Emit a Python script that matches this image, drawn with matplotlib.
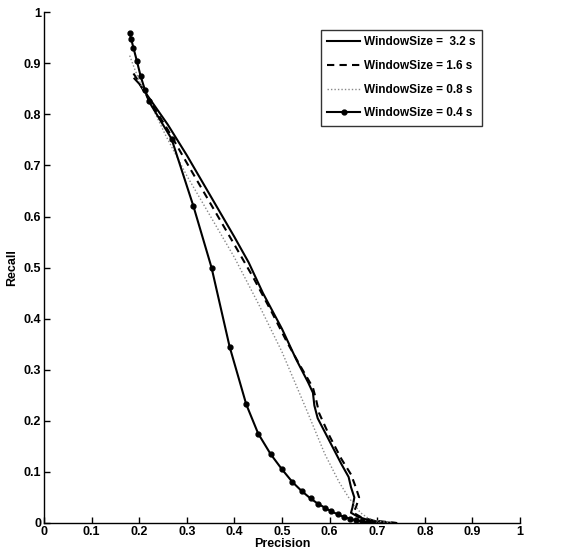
import matplotlib
matplotlib.use("Agg")
import matplotlib.pyplot as plt

# ---- data (precision, recall) ----
p32 = [0.190, 0.200, 0.215, 0.230, 0.260, 0.300, 0.350, 0.400, 0.430, 0.460, 0.500, 0.530,
       0.555, 0.565, 0.568, 0.575, 0.600, 0.625, 0.640, 0.645, 0.652, 0.648, 0.645, 0.660,
       0.680, 0.700, 0.720, 0.740]
r32 = [0.870, 0.860, 0.840, 0.820, 0.780, 0.720, 0.640, 0.560, 0.510, 0.450, 0.380, 0.320,
       0.275, 0.255, 0.230, 0.205, 0.160, 0.115, 0.090, 0.070, 0.050, 0.030, 0.020, 0.012,
       0.006, 0.003, 0.001, 0.000]

p16 = [0.188, 0.195, 0.210, 0.230, 0.260, 0.300, 0.350, 0.400, 0.440, 0.480, 0.510, 0.540,
       0.565, 0.572, 0.578, 0.600, 0.625, 0.645, 0.655, 0.662, 0.655, 0.650, 0.665, 0.690,
       0.720, 0.740]
r16 = [0.880, 0.870, 0.845, 0.815, 0.770, 0.705, 0.625, 0.545, 0.480, 0.410, 0.355, 0.305,
       0.265, 0.240, 0.215, 0.170, 0.125, 0.095, 0.070, 0.050, 0.030, 0.020, 0.012, 0.005,
       0.002, 0.000]

p08 = [0.180, 0.190, 0.205, 0.222, 0.255, 0.300, 0.350, 0.400, 0.450, 0.500, 0.550, 0.590,
       0.620, 0.640, 0.655, 0.665, 0.680, 0.700, 0.720, 0.730]
r08 = [0.915, 0.890, 0.855, 0.825, 0.760, 0.680, 0.600, 0.520, 0.430, 0.335, 0.225, 0.135,
       0.080, 0.050, 0.032, 0.020, 0.010, 0.004, 0.001, 0.000]

p04 = [0.180, 0.183, 0.188, 0.195, 0.203, 0.212, 0.220, 0.268, 0.314, 0.352, 0.390, 0.425,
       0.450, 0.476, 0.500, 0.522, 0.542, 0.560, 0.575, 0.590, 0.603, 0.617, 0.630, 0.643,
       0.656, 0.668, 0.680, 0.692]
r04 = [0.960, 0.948, 0.930, 0.905, 0.875, 0.848, 0.826, 0.752, 0.620, 0.500, 0.345, 0.232,
       0.175, 0.135, 0.105, 0.080, 0.062, 0.048, 0.038, 0.030, 0.023, 0.017, 0.012, 0.008,
       0.005, 0.003, 0.001, 0.000]

labels = ["WindowSize =  3.2 s", "WindowSize = 1.6 s", "WindowSize = 0.8 s", "WindowSize = 0.4 s"]
ticks = [0, 0.1, 0.2, 0.3, 0.4, 0.5, 0.6, 0.7, 0.8, 0.9, 1]
tick_labels = ["0", "0.1", "0.2", "0.3", "0.4", "0.5", "0.6", "0.7", "0.8", "0.9", "1"]

plt.rcParams['font.family'] = ['Liberation Sans', 'DejaVu Sans']
plt.rcParams['font.weight'] = 'bold'

fig = plt.figure(figsize=(5.61, 5.54), dpi=100)
ax = fig.add_axes([0.0784, 0.056, 0.8485, 0.922])

ax.plot(p32, r32, color='black', lw=1.5, ls='-', label=labels[0])
ax.plot(p16, r16, color='black', lw=1.5, ls=(0, (3.5, 2.5)), label=labels[1])
ax.plot(p08, r08, color='#888888', lw=1.0, ls=(0, (1, 1.5)), label=labels[2])
ax.plot(p04, r04, color='black', lw=1.5, ls='-', marker='o', markersize=3.5, label=labels[3])

ax.set_xlim(0, 1)
ax.set_ylim(0, 1)
ax.set_xticks(ticks)
ax.set_xticklabels(tick_labels)
ax.set_yticks(ticks)
ax.set_yticklabels(tick_labels)
ax.tick_params(direction='in', length=4, width=1, labelsize=9, pad=2)
for lab in ax.get_xticklabels() + ax.get_yticklabels():
    lab.set_fontweight('bold')
ax.spines['top'].set_visible(False)
ax.spines['right'].set_visible(False)
ax.spines['left'].set_linewidth(1)
ax.spines['bottom'].set_linewidth(1)

ax.set_xlabel("Precision", fontsize=9, fontweight='bold', labelpad=0)
ax.set_ylabel("Recall", fontsize=9, fontweight='bold', labelpad=4)

leg = ax.legend(loc='upper right', bbox_to_anchor=(0.92, 0.966), fontsize=8.5, frameon=True,
                fancybox=False, edgecolor='black', handlelength=2.8, handletextpad=0.3,
                borderpad=0.55, labelspacing=1.0, borderaxespad=0)
leg.get_frame().set_linewidth(1)
for t in leg.get_texts():
    t.set_fontweight('bold')

fig.savefig("out.png", dpi=100)
